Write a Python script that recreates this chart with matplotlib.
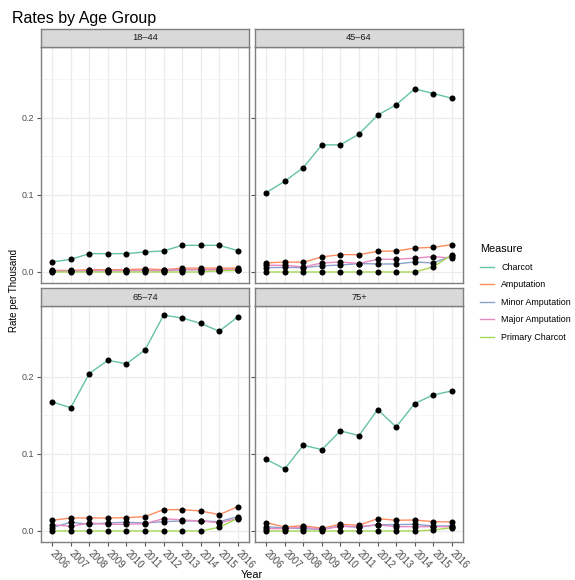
import numpy as np
import matplotlib
matplotlib.use('Agg')
import matplotlib.pyplot as plt
from matplotlib.lines import Line2D

plt.rcParams['font.family'] = ['Liberation Sans', 'DejaVu Sans']

years = [2006, 2007, 2008, 2009, 2010, 2011, 2012, 2013, 2014, 2015, 2016]
age_groups = ['18\u201344', '45\u201364', '65\u201374', '75+']
measures = ['Charcot', 'Amputation', 'Minor Amputation', 'Major Amputation', 'Primary Charcot']
colors = ['#66C2A5', '#FC8D62', '#8DA0CB', '#E78AC3', '#A6D854']

# one row per age group, in the order of age_groups
charcot = [
    [0.013, 0.0164, 0.0238, 0.0238, 0.0238, 0.026, 0.0273, 0.0346, 0.0346, 0.0346, 0.0277],
    [0.103, 0.1177, 0.1355, 0.165, 0.165, 0.179, 0.2035, 0.217, 0.2377, 0.2316, 0.2255],
    [0.1675, 0.160, 0.2043, 0.2216, 0.2169, 0.235, 0.280, 0.2766, 0.2693, 0.2593, 0.278],
    [0.0931, 0.0805, 0.1113, 0.1056, 0.1299, 0.1238, 0.1576, 0.135, 0.1654, 0.1766, 0.1818],
]
amputation = [
    [0.002, 0.002, 0.003, 0.003, 0.003, 0.004, 0.003, 0.005, 0.005, 0.005, 0.005],
    [0.0117, 0.013, 0.0126, 0.0195, 0.0225, 0.0225, 0.0268, 0.0273, 0.031, 0.032, 0.0355],
    [0.0139, 0.0169, 0.0169, 0.0169, 0.0173, 0.0186, 0.0277, 0.0277, 0.026, 0.0212, 0.0316],
    [0.0108, 0.0052, 0.0069, 0.0035, 0.0087, 0.0074, 0.016, 0.0139, 0.0143, 0.0121, 0.0117],
]
minor_amp = [
    [0.001, 0.001, 0.0015, 0.0015, 0.0015, 0.002, 0.0015, 0.003, 0.003, 0.003, 0.003],
    [0.0056, 0.006, 0.0056, 0.008, 0.009, 0.011, 0.0104, 0.0104, 0.013, 0.0117, 0.021],
    [0.0043, 0.0113, 0.0087, 0.0104, 0.0113, 0.0104, 0.0121, 0.013, 0.013, 0.0121, 0.0186],
    [0.0056, 0.0039, 0.003, 0.002, 0.0065, 0.0048, 0.0082, 0.0082, 0.0087, 0.0065, 0.0065],
]
major_amp = [
    [0.001, 0.001, 0.002, 0.002, 0.002, 0.002, 0.002, 0.003, 0.003, 0.003, 0.003],
    [0.0087, 0.0087, 0.0065, 0.0117, 0.013, 0.011, 0.0165, 0.0165, 0.018, 0.02, 0.018],
    [0.0082, 0.006, 0.0104, 0.0087, 0.0087, 0.0095, 0.016, 0.0143, 0.013, 0.0108, 0.016],
    [0.003, 0.003, 0.0052, 0.002, 0.006, 0.0056, 0.0082, 0.0056, 0.0056, 0.0056, 0.0056],
]
primary_charcot = [
    [0, 0, 0, 0, 0, 0, 0, 0, 0, 0.0015, 0.002],
    [0, 0, 0, 0, 0, 0, 0, 0, 0, 0.0065, 0.0225],
    [0, 0, 0, 0, 0, 0, 0, 0, 0, 0.0048, 0.0165],
    [0, 0, 0, 0, 0, 0, 0, 0, 0, 0.0013, 0.0043],
]
series = [charcot, amputation, minor_amp, major_amp, primary_charcot]

W, H = 575, 580
fig = plt.figure(figsize=(W / 100, H / 100), dpi=100)

def box(x0, y0, x1, y1):
    return [x0 / W, 1 - y1 / H, (x1 - x0) / W, (y1 - y0) / H]

# pixel boxes: (left, right), (strip top, panel top, panel bottom)
cols = [(41, 249), (255, 463)]
rows = [(29, 47, 283), (288, 306, 542)]

for i, grp in enumerate(age_groups):
    r, c = divmod(i, 2)
    x0, x1 = cols[c]
    st, pt, pb = rows[r]
    ax = fig.add_axes(box(x0, pt, x1, pb))
    ax.set_facecolor('white')
    for k in range(len(measures)):
        ax.plot(years, series[k][i], color=colors[k], lw=1.0, zorder=2)
    for k in range(len(measures)):
        ax.scatter(years, series[k][i], color='black', s=19, zorder=3, linewidths=0)
    ax.set_xlim(2005.4, 2016.6)
    ax.set_ylim(-0.0143, 0.292)
    ax.set_xticks(years)
    ax.set_yticks([0.0, 0.1, 0.2])
    ax.set_yticks([0.05, 0.15, 0.25], minor=True)
    ax.grid(True, which='major', color='#EBEBEB', lw=0.9, zorder=0)
    ax.grid(True, which='minor', axis='y', color='#F2F2F2', lw=0.5, zorder=0)
    ax.set_axisbelow(True)
    for sp in ax.spines.values():
        sp.set_color('#7F7F7F')
        sp.set_linewidth(1.0)
    ax.tick_params(axis='both', which='major', length=3, color='#555555', labelsize=6.4,
                   labelcolor='#4D4D4D', pad=2)
    ax.tick_params(axis='x', which='major', labelsize=7, pad=4)
    ax.tick_params(axis='y', which='minor', length=0)
    if c == 0:
        ax.set_yticklabels(['0.0', '0.1', '0.2'])
    else:
        ax.set_yticklabels([])
    if r == 1:
        ax.set_xticklabels([str(y) for y in years], rotation=-45, ha='left', va='center',
                           rotation_mode='anchor')
    else:
        ax.set_xticklabels([])
        ax.tick_params(axis='x', length=0)

    sax = fig.add_axes(box(x0, st, x1, pt))
    sax.set_facecolor('#D9D9D9')
    sax.set_xticks([])
    sax.set_yticks([])
    for sp in sax.spines.values():
        sp.set_color('#7F7F7F')
        sp.set_linewidth(1.0)
    sax.text(0.5, 0.5, grp, ha='center', va='center', fontsize=6.7, color='#1A1A1A',
             transform=sax.transAxes)

fig.text(12 / W, 1 - 18 / H, 'Rates by Age Group', fontsize=11.5, ha='left', va='center')
fig.text(14 / W, 1 - 291 / H, 'Rate per Thousand', fontsize=7, rotation=90,
         ha='center', va='center')
fig.text(252 / W, 1 - 575 / H, 'Year', fontsize=7.8, ha='center', va='center')

handles = [Line2D([0], [0], color=colors[k], lw=1.0) for k in range(len(measures))]
leg = fig.legend(handles, measures, title='Measure', loc='upper left',
                 bbox_to_anchor=(480 / W, 1 - 244 / H), frameon=False, fontsize=6.4,
                 title_fontsize=7.8, handlelength=1.6, handletextpad=0.8,
                 labelspacing=0.97, borderaxespad=0, borderpad=0)
leg._legend_box.align = 'left'

fig.savefig('out.png', dpi=100)
